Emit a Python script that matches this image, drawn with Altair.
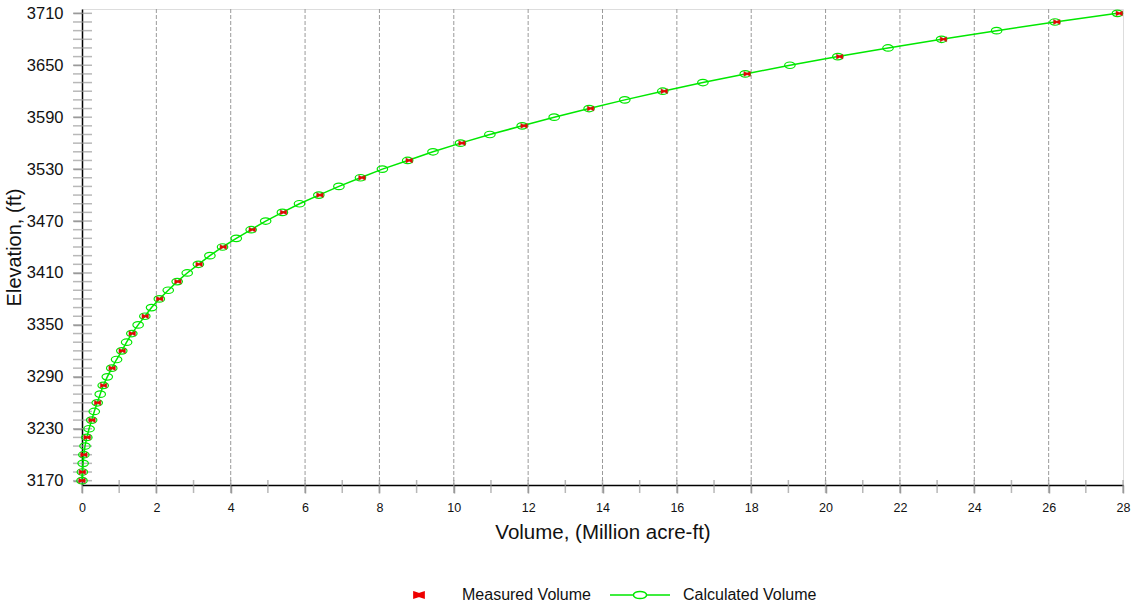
import altair as alt
import pandas as pd

# ---- data ----
calc_elev = [3170, 3180, 3190, 3200, 3210, 3220, 3230, 3240, 3250, 3260,
             3270, 3280, 3290, 3300, 3310, 3320, 3330, 3340, 3350, 3360,
             3370, 3380, 3390, 3400, 3410, 3420, 3430, 3440, 3450, 3460,
             3470, 3480, 3490, 3500, 3510, 3520, 3530, 3540, 3550, 3560,
             3570, 3580, 3590, 3600, 3610, 3620, 3630, 3640, 3650, 3660,
             3670, 3680, 3690, 3700, 3710]
calc_vol = [0.00, 0.01, 0.03, 0.05, 0.08, 0.13, 0.19, 0.26, 0.33, 0.41,
            0.49, 0.57, 0.68, 0.80, 0.93, 1.07, 1.20, 1.34, 1.51, 1.69,
            1.87, 2.08, 2.32, 2.56, 2.83, 3.13, 3.44, 3.78, 4.15, 4.55,
            4.94, 5.39, 5.85, 6.37, 6.91, 7.49, 8.08, 8.76, 9.44, 10.18,
            10.97, 11.84, 12.70, 13.64, 14.60, 15.62, 16.70, 17.84, 19.04, 20.33,
            21.68, 23.12, 24.60, 26.17, 27.85]

meas_elev = [3170, 3180, 3200, 3220, 3240, 3260, 3280, 3300, 3320, 3340,
             3360, 3380, 3400, 3420, 3440, 3460, 3480, 3500, 3520, 3540,
             3560, 3580, 3600, 3620, 3640, 3660, 3680, 3700, 3710]
meas_vol = [0.00, 0.01, 0.05, 0.14, 0.27, 0.42, 0.58, 0.81, 1.08, 1.35,
            1.70, 2.09, 2.58, 3.15, 3.80, 4.58, 5.42, 6.40, 7.53, 8.80,
            10.22, 11.89, 13.68, 15.66, 17.89, 20.38, 23.17, 26.22, 27.90]

# labelled ticks
y_label_values = [3170, 3230, 3290, 3350, 3410, 3470, 3530, 3590, 3650, 3710]
x_label_values = [0, 2, 4, 6, 8, 10, 12, 14, 16, 18, 20, 22, 24, 26, 28]
# all (minor) ticks
y_tick_values = [3170, 3180, 3190, 3200, 3210, 3220, 3230, 3240, 3250, 3260,
                 3270, 3280, 3290, 3300, 3310, 3320, 3330, 3340, 3350, 3360,
                 3370, 3380, 3390, 3400, 3410, 3420, 3430, 3440, 3450, 3460,
                 3470, 3480, 3490, 3500, 3510, 3520, 3530, 3540, 3550, 3560,
                 3570, 3580, 3590, 3600, 3610, 3620, 3630, 3640, 3650, 3660,
                 3670, 3680, 3690, 3700, 3710]
x_tick_values = [0, 1, 2, 3, 4, 5, 6, 7, 8, 9, 10, 11, 12, 13, 14, 15, 16,
                 17, 18, 19, 20, 21, 22, 23, 24, 25, 26, 27, 28]
grid_x = [2, 4, 6, 8, 10, 12, 14, 16, 18, 20, 22, 24, 26]
series_names = ["Measured Volume", "Calculated Volume"]

x_domain = [0, 28]
y_domain = [3165, 3715]

# ---- styles ----
FONT = "Liberation Sans"
GREEN = "#00e800"
RED = "#ee0000"
TICK = "#9a9a9a"

ellipse_path = "M-1,0 A1,0.62 0 1,0 1,0 A1,0.62 0 1,0 -1,0 Z"
bowtie_path = "M-1,-0.75 L0,-0.25 L1,-0.75 L1,0.75 L0,0.25 L-1,0.75 Z"
legend_bowtie = "M-0.17,-0.1 L0,-0.04 L0.17,-0.1 L0.17,0.1 L0,0.04 L-0.17,0.1 Z"
legend_line = ("M-1,0 L-0.22,0 M0.22,0 L1,0 "
               "M-0.22,0 A0.22,0.12 0 1,0 0.22,0 A0.22,0.12 0 1,0 -0.22,0")

calc_df = pd.DataFrame({"vol": calc_vol, "elev": calc_elev})
meas_df = pd.DataFrame({"vol": meas_vol, "elev": meas_elev})
ytick_df = pd.DataFrame({"elev": y_tick_values})
xtick_df = pd.DataFrame({"vol": x_tick_values})
grid_df = pd.DataFrame({"vol": grid_x})
legend_df = pd.DataFrame({"series": series_names})

x_scale = alt.Scale(domain=x_domain, nice=False, zero=False)
y_scale = alt.Scale(domain=y_domain, nice=False, zero=False)

x_axis = alt.Axis(
    title="Volume, (Million acre-ft)", values=x_label_values,
    grid=False, tickSize=8, tickColor=TICK, tickWidth=1.5,
    domainColor="black", domainWidth=1.5, labelFontSize=12.5,
    labelPadding=8, labelFlush=False, labelOverlap=False,
    titleFontSize=20.5, titlePadding=9, titleFontWeight="normal",
    labelColor="#111", titleColor="#111", labelFont=FONT, titleFont=FONT,
)
y_axis = alt.Axis(
    title="Elevation, (ft)", values=y_label_values, format="d",
    grid=False, tickSize=9, tickColor=TICK, tickWidth=1.5,
    domainColor="black", domainWidth=1.5, labelFontSize=16.5,
    labelPadding=10, labelOverlap=False, labelFlush=False,
    titleFontSize=20, titlePadding=2, titleFontWeight="normal",
    labelColor="#111", titleColor="#111", labelFont=FONT, titleFont=FONT,
)

X = alt.X("vol:Q", scale=x_scale, axis=x_axis)
Y = alt.Y("elev:Q", scale=y_scale, axis=y_axis)

grid = alt.Chart(grid_df).mark_rule(
    color="#9a9a9a", strokeDash=[4, 2], strokeWidth=1
).encode(x=X)

y_minor_ticks = alt.Chart(ytick_df).mark_tick(
    orient="horizontal", size=19, thickness=1.5, color=TICK, clip=False,
    xOffset=0.5
).encode(x=alt.datum(x_domain[0]), y=Y)

x_minor_ticks = alt.Chart(xtick_df).mark_tick(
    orient="vertical", size=13, thickness=1.5, color=TICK, clip=False,
    yOffset=1.5
).encode(x=X, y=alt.datum(y_domain[0]))

line = alt.Chart(calc_df).mark_line(color=GREEN, strokeWidth=1.5).encode(
    x=X, y=Y, order="elev:Q")

calc_pts = alt.Chart(calc_df).mark_point(
    shape=ellipse_path, size=110, stroke=GREEN, strokeWidth=1.2,
    filled=False, opacity=1
).encode(x=X, y=Y)

meas_pts = alt.Chart(meas_df).mark_point(
    shape=bowtie_path, size=42, filled=True, fill=RED, stroke="#aa3322",
    strokeWidth=0.5, opacity=1
).encode(x=X, y=Y)

leg = alt.Legend(
    orient="none", legendX=306, legendY=555, direction="horizontal",
    title=None, symbolSize=3600, symbolStrokeWidth=1.5,
    labelFontSize=16, labelFont=FONT, labelColor="#111",
    labelOffset=12, columnPadding=16,
)
legend_layer = alt.Chart(legend_df).transform_filter("false").mark_point(
    strokeWidth=1.5, opacity=1
).encode(
    shape=alt.Shape("series:N", scale=alt.Scale(domain=series_names,
                    range=[legend_bowtie, legend_line]), legend=leg),
    fill=alt.Fill("series:N", scale=alt.Scale(domain=series_names,
                  range=[RED, "transparent"]), legend=leg),
    stroke=alt.Stroke("series:N", scale=alt.Scale(domain=series_names,
                      range=[RED, GREEN]), legend=leg),
)

chart = alt.layer(
    grid, y_minor_ticks, x_minor_ticks, line, calc_pts, meas_pts, legend_layer
).properties(
    width=1041, height=476,
    padding={"left": 82, "top": 9, "right": 10, "bottom": 125},
    autosize=alt.AutoSizeParams(type="none"),
).configure_view(
    stroke="black", strokeWidth=1.5
).configure(background="white")

chart.save("out.html", embed_options={"renderer": "svg", "actions": False})
